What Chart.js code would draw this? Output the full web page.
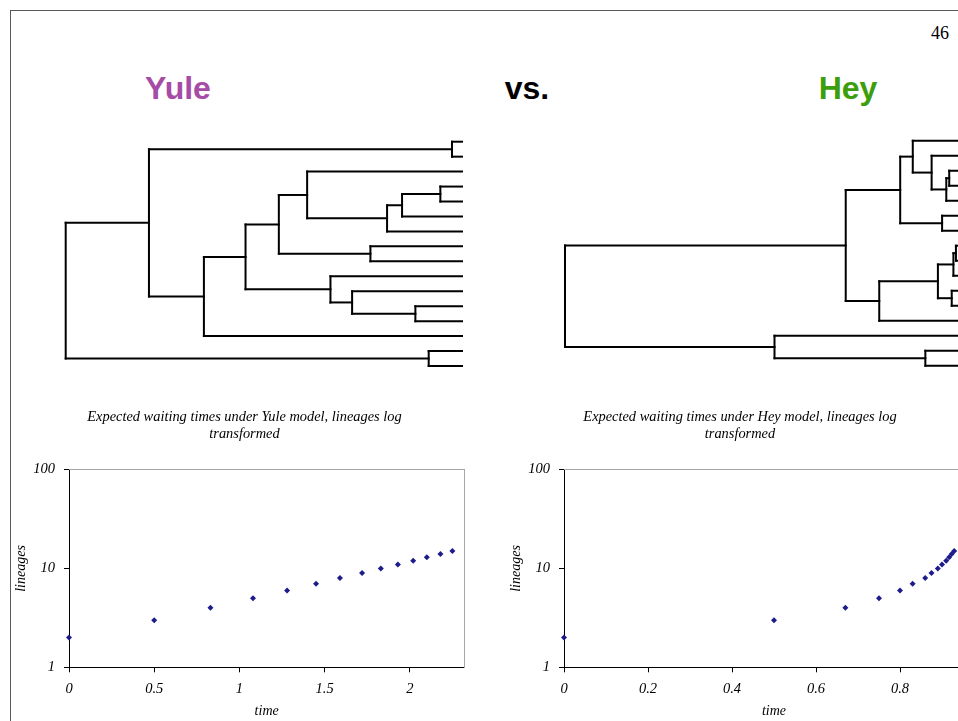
<!DOCTYPE html>
<html>
<head>
<meta charset="utf-8">
<script src="https://cdn.jsdelivr.net/npm/chart.js@4.4.1/dist/chart.umd.min.js"></script>
<style>
  html, body { margin: 0; padding: 0; background: #fff; }
  body { width: 958px; height: 721px; overflow: hidden; position: relative; }
  #frame { position: absolute; left: 10px; top: 10px; width: 1000px; height: 800px;
           border-left: 1px solid #5a5a5a; border-top: 1px solid #5a5a5a; }
  .head { position: absolute; top: 72px; transform: translateX(-50%); white-space: nowrap;
          font: bold 32px/32px "Liberation Sans", Arial, sans-serif; }
  #page { position: absolute; top: 24px; right: 9px; font: 18px/18px "Liberation Serif", "Times New Roman", serif; }
  canvas { position: absolute; }
</style>
</head>
<body>
<div id="frame"></div>
<div id="page">46</div>
<div class="head" style="left:178px;color:#a64ca6">Yule</div>
<div class="head" style="left:527px;color:#000">vs.</div>
<div class="head" style="left:848px;color:#3c9e0c">Hey</div>

<canvas id="yuleTree" width="410" height="245" style="left:60px;top:130px"></canvas>
<canvas id="heyTree" width="440" height="245" style="left:555px;top:130px"></canvas>
<canvas id="yuleChart" width="489" height="321" style="left:0px;top:400px"></canvas>
<canvas id="heyChart" width="496" height="321" style="left:492px;top:400px"></canvas>

<script>
// trees: [node time, upper child, lower child], null = tip
const yuleTipTime = 2.38;
const yuleTree = [0,
  [0.5,
    [2.32, null, null],
    [0.83,
      [1.08,
        [1.28,
          [1.45, null, [1.93, [2.02, [2.25, null, null], null], null]],
          [1.83, null, null]],
        [1.59, null, [1.72, null, [2.10, null, null]]]],
      null]],
  [2.18, null, null]];

const heyTipTime = 1.0;
const heyTree = [0,
  [0.67,
    [0.80,
      [0.83, null, [0.875, null, [0.91, [0.917, null, null], null]]],
      [0.90, null, null]],
    [0.75,
      [0.89, [0.927, [0.933, null, null], null], [0.923, null, null]],
      null]],
  [0.50, null, [0.86, null, null]]];

// expected waiting times (scatter)
const yuleLineages = [2, 3, 4, 5, 6, 7, 8, 9, 10, 11, 12, 13, 14, 15];
const yuleTimes = [0, 0.5, 0.83, 1.08, 1.28, 1.45, 1.59, 1.72, 1.83, 1.93, 2.02, 2.10, 2.18, 2.25];
const heyLineages = [2, 3, 4, 5, 6, 7, 8, 9, 10, 11, 12, 13, 14, 15];
const heyTimes = [0, 0.5, 0.67, 0.75, 0.8, 0.83, 0.86, 0.875, 0.89, 0.9, 0.91, 0.917, 0.923, 0.929];

const yuleTimeTicks = [0, 0.5, 1, 1.5, 2];
const heyTimeTicks = [0, 0.2, 0.4, 0.6, 0.8];
const lineageTicks = [1, 10, 100];

const yuleTitle = ['Expected waiting times under Yule model, lineages log', 'transformed'];
const heyTitle = ['Expected waiting times under Hey model, lineages log', 'transformed'];

const serif = '"Liberation Serif", "Times New Roman", serif';
const titleFont = { family: serif, style: 'italic', size: 14.4, weight: 'normal', lineHeight: 1.18 };
const tickFont = { family: serif, style: 'italic', size: 14.5, weight: 'normal', lineHeight: 1.2 };
const axisFont = { family: serif, style: 'italic', size: 14, weight: 'normal', lineHeight: 1.2 };

function treeSegments(tree, tipTime) {
  const segs = [];
  let leaf = 0;
  function walk(node) {
    if (node === null) return { t: tipTime, y: leaf++ };
    const [t, a, b] = node;
    const ca = walk(a), cb = walk(b);
    segs.push([{ x: t, y: ca.y }, { x: t, y: cb.y }]);
    segs.push([{ x: t, y: ca.y }, { x: ca.t, y: ca.y }]);
    segs.push([{ x: t, y: cb.y }, { x: cb.t, y: cb.y }]);
    return { t: t, y: (ca.y + cb.y) / 2 };
  }
  walk(tree);
  return segs;
}

function treeChart(id, tree, tipTime, padding) {
  new Chart(document.getElementById(id), {
    type: 'scatter',
    data: {
      datasets: treeSegments(tree, tipTime).map(seg => ({
        data: seg,
        showLine: true,
        borderColor: '#000',
        borderWidth: 2,
        borderCapStyle: 'square',
        pointRadius: 0,
        clip: false
      }))
    },
    options: {
      responsive: false,
      animation: false,
      events: [],
      layout: { padding: padding },
      plugins: { legend: { display: false }, tooltip: { enabled: false } },
      scales: {
        x: { display: false, min: 0, max: tipTime },
        y: { display: false, min: 0, max: 15, reverse: true }
      }
    }
  });
}

function lineageChart(id, times, lineages, xMax, xTicks, title, yAxisWidth, rightWidth, yTitlePad) {
  new Chart(document.getElementById(id), {
    type: 'scatter',
    data: {
      datasets: [{
        data: times.map((t, i) => ({ x: t, y: lineages[i] })),
        xAxisID: 'x',
        yAxisID: 'y',
        pointStyle: 'rectRot',
        pointRadius: 3,
        borderWidth: 0,
        backgroundColor: '#1c1c8c',
        borderColor: '#1c1c8c',
        clip: false
      }]
    },
    options: {
      responsive: false,
      animation: false,
      events: [],
      layout: { padding: 0 },
      plugins: {
        legend: { display: false },
        tooltip: { enabled: false },
        title: { display: true, text: title, color: '#000', font: titleFont, padding: { top: 9, bottom: 26.7 } }
      },
      scales: {
        x: {
          type: 'linear', position: 'bottom', min: 0, max: xMax,
          afterBuildTicks: s => { s.ticks = xTicks.map(v => ({ value: v })); },
          afterFit: s => { s.height = 53.7; },
          border: { color: '#000', width: 1 },
          grid: { drawOnChartArea: false, drawTicks: true, tickLength: 5, tickColor: '#000' },
          ticks: { color: '#000', font: tickFont, padding: 8, maxRotation: 0, callback: v => String(+v.toFixed(2)) },
          title: { display: true, text: 'time', color: '#000', font: axisFont, padding: { top: 0, bottom: 1.6 } }
        },
        y: {
          type: 'logarithmic', position: 'left', min: 1, max: 100,
          afterBuildTicks: s => { s.ticks = lineageTicks.map(v => ({ value: v })); },
          afterFit: s => { s.width = yAxisWidth; },
          border: { color: '#000', width: 1 },
          grid: { drawOnChartArea: false, drawTicks: true, tickLength: 5, tickColor: '#000' },
          ticks: { color: '#000', font: tickFont, padding: 9, callback: v => String(v) },
          title: { display: true, text: 'lineages', color: '#000', font: axisFont, padding: { top: yTitlePad, bottom: 0 } }
        },
        x2: {
          type: 'linear', position: 'top', min: 0, max: 1,
          afterFit: s => { s.height = 0; },
          border: { color: '#a6a6a6', width: 1 },
          grid: { display: false, drawTicks: false },
          ticks: { display: false }
        },
        y2: {
          type: 'linear', position: 'right', min: 0, max: 1,
          afterFit: s => { s.width = rightWidth; },
          border: { color: '#a6a6a6', width: 1 },
          grid: { display: false, drawTicks: false },
          ticks: { display: false }
        }
      }
    }
  });
}

treeChart('yuleTree', yuleTree, yuleTipTime, { left: 5.7, right: 8, top: 11.7, bottom: 9 });
treeChart('heyTree', heyTree, heyTipTime, { left: 10, right: 11, top: 10.7, bottom: 9.3 });
lineageChart('yuleChart', yuleTimes, yuleLineages, 2.32, yuleTimeTicks, yuleTitle, 69, 24.7, 12.6);
lineageChart('heyChart', heyTimes, heyLineages, 1, heyTimeTicks, heyTitle, 72, 0, 15.6);
</script>
</body>
</html>
